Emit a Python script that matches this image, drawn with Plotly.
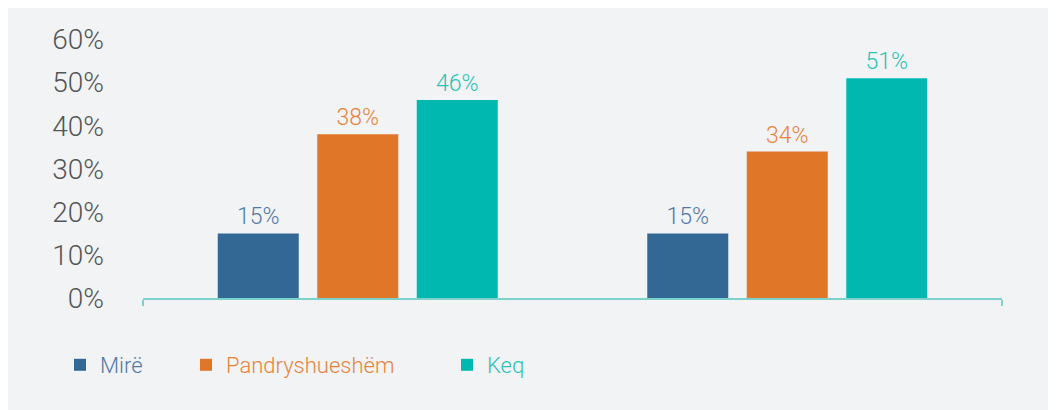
import plotly.graph_objects as go

groups = [0, 1]
series_names = ["Mirë", "Pandryshueshëm", "Keq"]
mire = [15, 15]
pandryshueshem = [38, 34]
keq = [46, 51]
tick_values = [0, 10, 20, 30, 40, 50, 60]
tick_labels = ["0%", "10%", "20%", "30%", "40%", "50%", "60%"]

bar_colors = ["#336895", "#e07627", "#00b8b0"]
text_colors = ["#4f7aa6", "#e5843d", "#2cc2b8"]
legend_ids = ["legend", "legend2", "legend3"]
legend_x_px = [52, 178, 439]

W, H = 1056, 410
ml, mr, mt, mb = 135, 62, 23, 120
pw, ph = W - ml - mr, H - mt - mb

fig = go.Figure()
for name, vals, bc, tc, lid in zip(series_names, [mire, pandryshueshem, keq],
                                   bar_colors, text_colors, legend_ids):
    fig.add_trace(go.Bar(
        x=groups, y=vals,
        name=f"<span style='color:{tc}'>{name}</span>",
        legend=lid,
        marker=dict(color=bc, line=dict(width=0)),
        text=[f"{v}%" for v in vals],
        textposition="outside",
        textfont=dict(color=tc, size=23, family="Roboto", weight=300),
        cliponaxis=False,
    ))

legend_common = dict(
    orientation="h", xanchor="left",
    y=-(357 - (mt + ph)) / ph, yanchor="middle",
    font=dict(size=22, family="Roboto", weight=300),
    bgcolor="rgba(0,0,0,0)", itemwidth=30,
)

fig.update_layout(
    width=W, height=H,
    margin=dict(l=ml, r=mr, t=mt, b=mb),
    paper_bgcolor="#f2f3f5",
    plot_bgcolor="#f2f3f5",
    barmode="group",
    bargap=0.305,
    bargroupgap=0.186,
    font=dict(family="Roboto", color="#555555"),
    showlegend=True,
    legend=dict(legend_common, x=(legend_x_px[0] - ml) / pw),
    legend2=dict(legend_common, x=(legend_x_px[1] - ml) / pw),
    legend3=dict(legend_common, x=(legend_x_px[2] - ml) / pw),
    xaxis=dict(
        range=[-0.5, 1.5],
        tickmode="array", tickvals=[-0.5, 1.5], ticktext=["", ""],
        ticks="outside", ticklen=6, tickwidth=2, tickcolor="#7dd3cb",
        showline=True, linecolor="#7dd3cb", linewidth=2,
        showgrid=False, zeroline=False, showticklabels=False,
    ),
    yaxis=dict(
        range=[0, 62],
        tickmode="array", tickvals=tick_values, ticktext=tick_labels,
        showgrid=False, zeroline=False, showline=False,
        ticks="", ticklabelstandoff=38,
        tickfont=dict(size=28, color="#555555", family="Roboto", weight=300),
    ),
)

fig.write_html("out.html")
